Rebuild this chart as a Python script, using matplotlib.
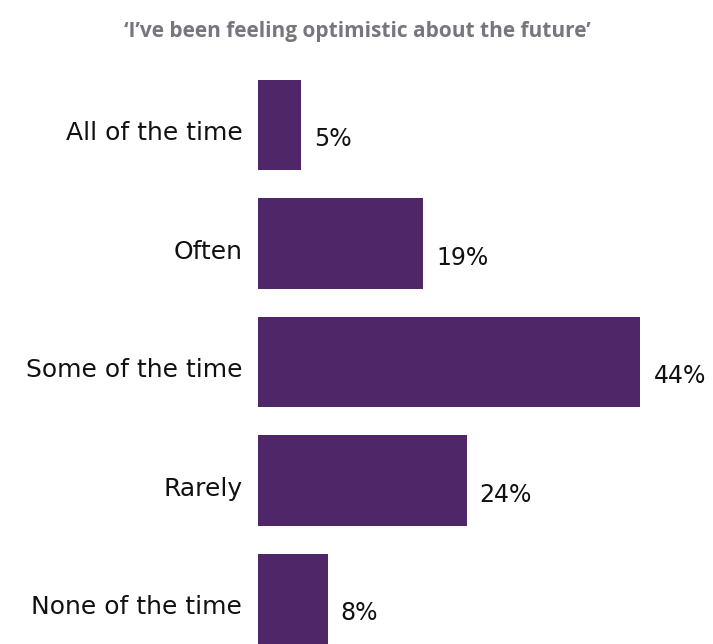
import matplotlib
matplotlib.use("Agg")
import matplotlib.pyplot as plt

categories = ["All of the time", "Often", "Some of the time", "Rarely", "None of the time"]
values = [5, 19, 44, 24, 8]
labels = ["5%", "19%", "44%", "24%", "8%"]

plt.rcParams["font.family"] = ["DejaVu Sans"]

fig = plt.figure(figsize=(7.13, 6.44), dpi=100)
ax = fig.add_axes([258 / 713, 0, 452 / 713, 564 / 644])

pos = list(range(len(categories)))
ax.barh(pos, values, height=0.76, color="#4F2668")

ax.set_xlim(0, 52)
ax.set_ylim(4.38, -0.38)
ax.axis("off")

for p, c, v, l in zip(pos, categories, values, labels):
    ax.text(-1.8, p + 0.07, c, ha="right", va="center", fontsize=18, color="#111111")
    ax.text(v + 1.5, p + 0.12, l, ha="left", va="center", fontsize=17, color="#111111")

fig.text(357 / 713, 1 - 31 / 644, "\u2018I\u2019ve been feeling optimistic about the future\u2019",
         ha="center", va="center", fontsize=15, fontweight="bold", color="#76767E",
         family="Open Sans")

fig.savefig("out.png", dpi=100)
